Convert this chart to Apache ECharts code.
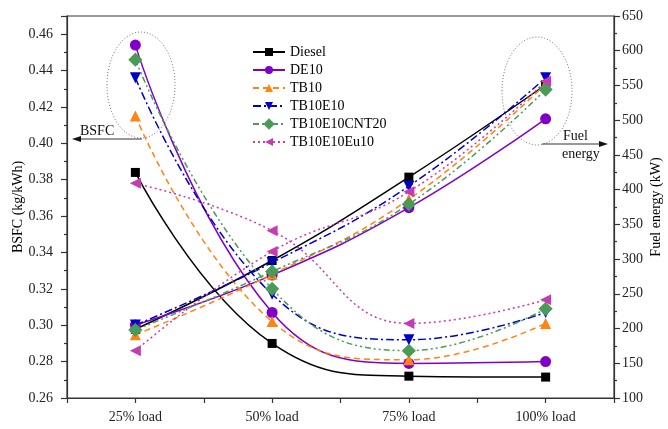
<!DOCTYPE html>
<html>
<head>
<meta charset="utf-8">
<script src="https://cdn.jsdelivr.net/npm/echarts@6/dist/echarts.min.js"></script>
<style>html,body{margin:0;padding:0;background:#fff;}#c{width:668px;height:429px;}</style>
</head>
<body>
<div id="c"></div>
<script>
var categories = ['25% load', '50% load', '75% load', '100% load'];
var seriesNames = ['Diesel', 'DE10', 'TB10', 'TB10E10', 'TB10E10CNT20', 'TB10E10Eu10'];

var bsfcDiesel   = [0.384, 0.290, 0.272, 0.2715];
var bsfcDE10     = [0.454, 0.307, 0.279, 0.280];
var bsfcTB10     = [0.415, 0.302, 0.281, 0.301];
var bsfcTB10E10  = [0.436, 0.317, 0.292, 0.307];
var bsfcCNT20    = [0.446, 0.320, 0.286, 0.309];
var bsfcEu10     = [0.378, 0.352, 0.301, 0.314];

var fuelDiesel   = [199, 298, 418, 551];
var fuelDE10     = [205, 277, 374, 502];
var fuelTB10     = [191, 278, 386, 552];
var fuelTB10E10  = [205, 295, 405, 561];
var fuelCNT20    = [198, 282, 379, 544];
var fuelEu10     = [168, 311, 397, 556];

var bsfcTicks = [0.26, 0.28, 0.30, 0.32, 0.34, 0.36, 0.38, 0.40, 0.42, 0.44, 0.46];
var fuelTicks = [100, 150, 200, 250, 300, 350, 400, 450, 500, 550, 600, 650];

var bsfcAll = [bsfcDiesel, bsfcDE10, bsfcTB10, bsfcTB10E10, bsfcCNT20, bsfcEu10];
var fuelAll = [fuelDiesel, fuelDE10, fuelTB10, fuelTB10E10, fuelCNT20, fuelEu10];

var styles = [
  {color: '#000000', type: 'solid', symbol: 'rect', rot: 0, size: 9},
  {color: '#8000c8', type: 'solid', symbol: 'circle', rot: 0, size: 11},
  {color: '#ff8410', type: [6, 4], symbol: 'triangle', rot: 0, size: 11},
  {color: '#0000c8', type: [8, 3, 2, 3], symbol: 'triangle', rot: 180, size: 11},
  {color: '#4a9a58', type: [6, 3, 2, 3, 2, 3], symbol: 'rect', rot: 45, size: 10},
  {color: '#c43cb4', type: [2, 3], symbol: 'triangle', rot: 90, size: 11}
];

function toPairs(arr) {
  return arr.map(function (v, i) { return [i + 1, v]; });
}

var font = 'Liberation Serif';
var series = [];
seriesNames.forEach(function (name, k) {
  var s = styles[k];
  [0, 1].forEach(function (ax) {
    series.push({
      name: name,
      type: 'line',
      yAxisIndex: ax,
      data: toPairs(ax === 0 ? bsfcAll[k] : fuelAll[k]),
      smooth: 0.45,
      symbol: s.symbol,
      symbolRotate: s.rot,
      symbolSize: s.size,
      showAllSymbol: true,
      lineStyle: {color: s.color, width: 1.5, type: s.type},
      itemStyle: {color: s.color},
      emphasis: {disabled: true},
      animation: false
    });
  });
});

var chart = echarts.init(document.getElementById('c'));
chart.setOption({
  backgroundColor: '#ffffff',
  animation: false,
  textStyle: {fontFamily: font},
  grid: {left: 67, right: 54, top: 16, bottom: 31, outerBoundsMode: 'none', containLabel: false,
    show: true, borderColor: '#333', borderWidth: 1.2, backgroundColor: 'transparent'},
  legend: {
    orient: 'vertical',
    left: 252,
    top: 45,
    padding: 0,
    itemWidth: 32,
    itemHeight: 10,
    itemGap: 4,
    data: seriesNames,
    textStyle: {fontFamily: font, fontSize: 14, color: '#000'}
  },
  xAxis: {
    type: 'value',
    min: 0.5,
    max: 4.5,
    interval: 0.5,
    axisLine: {show: true, lineStyle: {color: '#333', width: 1.2}},
    axisTick: {show: true, length: 5, lineStyle: {color: '#333', width: 1.2}},
    splitLine: {show: false},
    axisLabel: {
      margin: 12,
      fontFamily: font, fontSize: 14, color: '#222',
      showMinLabel: true, showMaxLabel: true,
      formatter: function (v) {
        var i = Math.round(v);
        return Math.abs(v - i) < 1e-6 && i >= 1 && i <= categories.length ? categories[i - 1] : '';
      }
    }
  },
  yAxis: [
    {
      type: 'value',
      min: bsfcTicks[0],
      max: 0.47,
      interval: 0.02,
      name: 'BSFC (kg/kWh)',
      nameLocation: 'middle',
      nameGap: 42,
      nameMoveOverlap: false,
      nameTextStyle: {fontFamily: font, fontSize: 14, color: '#000'},
      axisLine: {show: true, lineStyle: {color: '#333', width: 1.2}},
      axisTick: {show: true, length: 6, lineStyle: {color: '#333', width: 1.2}},
      minorTick: {show: true, splitNumber: 2, length: 3, lineStyle: {color: '#333', width: 1.2}},
      splitLine: {show: false},
      axisLabel: {margin: 14, fontFamily: font, fontSize: 14, color: '#222', showMaxLabel: false,
        formatter: function (v) { return v.toFixed(2); }}
    },
    {
      type: 'value',
      min: fuelTicks[0],
      max: fuelTicks[fuelTicks.length - 1],
      interval: 50,
      position: 'right',
      name: 'Fuel energy (kW)',
      nameLocation: 'middle',
      nameGap: 35,
      nameRotate: 90,
      nameMoveOverlap: false,
      nameTextStyle: {fontFamily: font, fontSize: 14, color: '#000'},
      axisLine: {show: true, lineStyle: {color: '#333', width: 1.2}},
      axisTick: {show: true, length: 6, lineStyle: {color: '#333', width: 1.2}},
      minorTick: {show: true, splitNumber: 2, length: 3, lineStyle: {color: '#333', width: 1.2}},
      splitLine: {show: false},
      axisLabel: {margin: 8, fontFamily: font, fontSize: 14, color: '#222'}
    }
  ],
  graphic: [
    {type: 'ellipse', shape: {cx: 141, cy: 85, rx: 34, ry: 53}, style: {fill: 'none', stroke: '#777', lineWidth: 1, lineDash: [1, 2]}, silent: true},
    {type: 'ellipse', shape: {cx: 537, cy: 91, rx: 35, ry: 54}, style: {fill: 'none', stroke: '#777', lineWidth: 1, lineDash: [1, 2]}, silent: true},
    {type: 'line', shape: {x1: 142, y1: 139, x2: 76, y2: 139}, style: {stroke: '#333', lineWidth: 1}, silent: true},
    {type: 'polygon', shape: {points: [[72, 139], [81, 136], [81, 142]]}, style: {fill: '#111'}, silent: true},
    {type: 'text', left: 80, top: 124, style: {text: 'BSFC', font: '14px "Liberation Serif"', fill: '#111'}, silent: true},
    {type: 'line', shape: {x1: 542, y1: 144, x2: 604, y2: 144}, style: {stroke: '#333', lineWidth: 1}, silent: true},
    {type: 'polygon', shape: {points: [[608, 144], [599, 141], [599, 147]]}, style: {fill: '#111'}, silent: true},
    {type: 'text', left: 563, top: 129, style: {text: 'Fuel', font: '14px "Liberation Serif"', fill: '#111'}, silent: true},
    {type: 'text', left: 562, top: 147, style: {text: 'energy', font: '14px "Liberation Serif"', fill: '#111'}, silent: true}
  ],
  series: series
});
</script>
</body>
</html>
